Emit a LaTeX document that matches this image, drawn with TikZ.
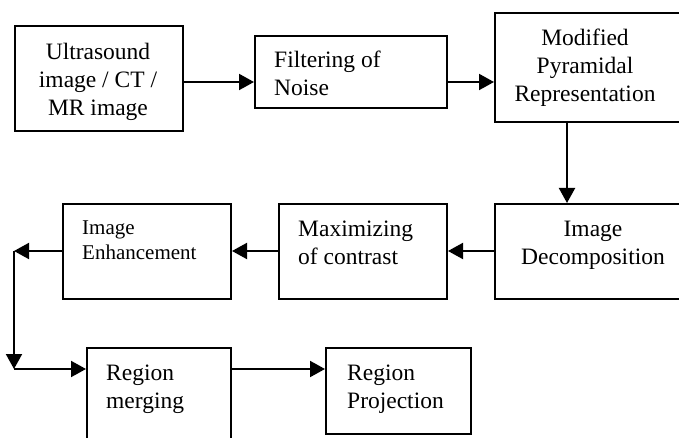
\documentclass[tikz,border=0pt]{standalone}
\usepackage{fontspec}
\setmainfont{Liberation Serif}
\usetikzlibrary{arrows.meta}
\begin{document}
\begin{tikzpicture}[x=1pt,y=-1pt,
  box/.style={draw,line width=2pt,inner sep=0pt,anchor=north west},
  conn/.style={line width=2pt,-{Triangle[length=15pt,width=16pt]}},
  txt/.style={font=\fontsize{23.5}{28}\selectfont,inner sep=0pt},
  stxt/.style={font=\fontsize{21}{25}\selectfont,inner sep=0pt}]
\useasboundingbox (0,0) rectangle (679,438);
% boxes
\node[box,minimum width=168pt,minimum height=105pt] (b1) at (14,25) {};
\node[box,minimum width=192pt,minimum height=72pt] (b2) at (254,35) {};
\node[box,minimum width=200pt,minimum height=109pt] (b3) at (494,12) {};
\node[box,minimum width=200pt,minimum height=95pt] (b4) at (494,203) {};
\node[box,minimum width=168pt,minimum height=95pt] (b5) at (278,203) {};
\node[box,minimum width=168pt,minimum height=95pt] (b6) at (62,203) {};
\node[box,minimum width=144pt,minimum height=100pt] (b7) at (86,347) {};
\node[box,minimum width=145pt,minimum height=86pt] (b8) at (325,347) {};
% texts
\node[txt,align=center] (t1) at (98,82) {Ultrasound\\image / CT /\\MR image};
\node[txt,align=left,anchor=west] (t2) at (274,73) {Filtering of\\Noise};
\node[txt,align=center] (t3) at (585,68) {Modified\\Pyramidal\\Representation};
\node[txt,align=center] (t4) at (593,245) {Image\\Decomposition};
\node[txt,align=left,anchor=west] (t5) at (298,243) {Maximizing\\of contrast};
\node[stxt,align=left,anchor=west] (t6) at (82,240) {Image\\Enhancement};
\node[txt,align=left,anchor=west] (t7) at (106,389) {Region\\merging};
\node[txt,align=left,anchor=west] (t8) at (347,389) {Region\\Projection};
% connectors
\coordinate (c1) at (14,251);
\coordinate (c2) at (14,369);
\draw[conn] (b1.east |- 0,82) -- (b2.west |- 0,82);
\draw[conn] (b2.east |- 0,82) -- (b3.west |- 0,82);
\draw[conn] (567,121) -- (b4.north -| 567,0);
\draw[conn] (b4.west |- 0,251) -- (b5.east |- 0,251);
\draw[conn] (b5.west |- 0,251) -- (b6.east |- 0,251);
\draw[conn] (b6.west |- 0,251) -- (c1);
\draw[conn] (c1) -- (c2);
\draw[conn] (c2) -- (b7.west |- 0,369);
\draw[conn] (b7.east |- 0,369) -- (b8.west |- 0,369);
\end{tikzpicture}
\end{document}
